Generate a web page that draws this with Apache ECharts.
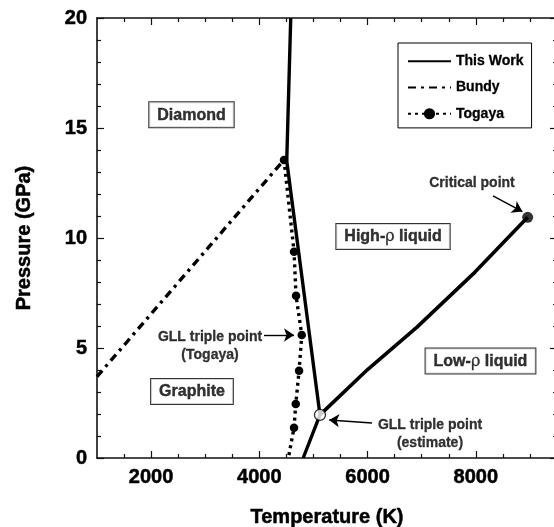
<!DOCTYPE html>
<html><head><meta charset="utf-8">
<script src="https://cdn.jsdelivr.net/npm/echarts@6/dist/echarts.min.js"></script>
<style>html,body{margin:0;padding:0;background:#fff}#c{width:554px;height:527px}</style>
</head><body><div id="c"></div>
<script>
// ---- data ----
const thisWorkMeltT = [4580, 4506, 5120, 4810];
const thisWorkMeltP = [20, 13.5, 1.96, 0];
const thisWorkLLT = [5120, 6000, 6913, 7985, 8958];
const thisWorkLLP = [1.96, 4.02, 5.95, 8.45, 10.94];
const bundyT = [1000, 4456];
const bundyP = [3.7, 13.55];
const togayaT = [4456, 4641, 4678, 4784, 4734, 4673, 4641];
const togayaP = [13.55, 9.38, 7.38, 5.59, 3.97, 2.45, 1.38];
const togayaEndT = [4536];
const togayaEndP = [0];
const criticalT = [8958];
const criticalP = [10.94];
const tripleT = [5120];
const tripleP = [1.96];
const xMajorTicks = [2000, 4000, 6000, 8000];
const xMinorTicks = [1500, 2500, 3000, 3500, 4500, 5000, 5500, 6500, 7000, 7500, 8500, 9000];
const yMajorTicks = [0, 5, 10, 15, 20];
const yMinorTicks = [1, 2, 3, 4, 6, 7, 8, 9, 11, 12, 13, 14, 16, 17, 18, 19];
const regionLabels = ['Diamond', 'Graphite', 'High-{r|ρ} liquid', 'Low-{r|ρ} liquid'];
const regionT = [2746, 2755, 6470, 8086];
const regionP = [15.6, 3.02, 10.07, 4.41];
const noteLabels = ['Critical point', 'GLL triple point\n(Togaya)', 'GLL triple point\n(estimate)'];
const noteT = [7929, 3088, 7153];
const noteP = [12.5, 5.09, 1.09];
const arrowFromT = [8317, 4086, 6081];
const arrowFromP = [11.91, 5.59, 1.59];
const arrowToT = [8860, 4640, 5290];
const arrowToP = [11.2, 5.59, 1.73];

// ---- chart ----
const FONT = 'Liberation Sans, Arial, Helvetica, sans-serif';
const INK = '#111';
const pairs = (a, b) => a.map((v, i) => [v, b[i]]);
const heavy = { textBorderColor: '#000', textBorderWidth: 0.5 };

function xAx(pos, ticks, len, main) {
  return {
    type: 'value', position: pos, min: 1000, max: 9500, interval: 500,
    axisLine: { show: main, onZero: false, lineStyle: { color: INK, width: 1.6 } },
    axisTick: { show: true, inside: true, length: len, customValues: ticks, lineStyle: { color: INK, width: 1.2 } },
    axisLabel: Object.assign({ show: main && pos === 'bottom', customValues: ticks, margin: 9,
      formatter: v => String(v),
      fontFamily: FONT, fontWeight: 'bold', fontSize: 20, color: '#000' }, heavy),
    splitLine: { show: false },
    name: (main && pos === 'bottom') ? 'Temperature (K)' : '',
    nameLocation: 'middle', nameGap: 49,
    nameTextStyle: Object.assign({ fontFamily: FONT, fontWeight: 'bold', fontSize: 20, color: '#000' }, heavy)
  };
}
function yAx(pos, ticks, len, main) {
  return {
    type: 'value', position: pos, min: 0, max: 20, interval: 1,
    axisLine: { show: main, onZero: false, lineStyle: { color: INK, width: 1.6 } },
    axisTick: { show: true, inside: true, length: len, customValues: ticks, lineStyle: { color: INK, width: 1.2 } },
    axisLabel: Object.assign({ show: main && pos === 'left', customValues: ticks, margin: 10,
      formatter: v => String(v),
      fontFamily: FONT, fontWeight: 'bold', fontSize: 20, color: '#000' }, heavy),
    splitLine: { show: false },
    name: (main && pos === 'left') ? 'Pressure (GPa)' : '',
    nameLocation: 'middle', nameGap: 63, nameRotate: 90,
    nameTextStyle: Object.assign({ fontFamily: FONT, fontWeight: 'bold', fontSize: 20, color: '#000' }, heavy)
  };
}

const togayaData = pairs(togayaT, togayaP).concat(
  pairs(togayaEndT, togayaEndP).map(v => ({ value: v, symbol: 'none' })));

const option = {
  animation: false,
  backgroundColor: '#fff',
  grid: { left: 97, right: -3, top: 18, bottom: 69, containLabel: false, outerBoundsMode: 'none' },
  xAxis: [
    xAx('bottom', xMajorTicks, 7, true),
    xAx('bottom', xMinorTicks, 4, false),
    xAx('top', xMajorTicks, 7, true),
    xAx('top', xMinorTicks, 4, false)
  ],
  yAxis: [
    yAx('left', yMajorTicks, 7, true),
    yAx('left', yMinorTicks, 4, false),
    yAx('right', yMajorTicks, 7, true),
    yAx('right', yMinorTicks, 4, false)
  ],
  legend: {
    data: [
      { name: 'This Work', itemStyle: { opacity: 0 } },
      { name: 'Bundy', itemStyle: { opacity: 0 } },
      { name: 'Togaya', itemStyle: { color: '#000', borderWidth: 0 } }
    ],
    orient: 'vertical', left: 398, top: 43,
    itemWidth: 43, itemHeight: 14, itemGap: 12,
    padding: [11, 8, 7, 9],
    backgroundColor: '#fff', borderColor: '#000', borderWidth: 1, borderRadius: 0,
    selectedMode: false,
    textStyle: { fontFamily: FONT, fontWeight: 'bold', fontSize: 14, color: '#000', textBorderColor: '#000', textBorderWidth: 0.3 }
  },
  series: [
    {
      name: 'This Work', type: 'line', data: pairs(thisWorkMeltT, thisWorkMeltP),
      symbol: 'none', itemStyle: { color: '#000' }, lineStyle: { color: '#000', width: 3.4 }, z: 3, silent: true
    },
    {
      name: 'This Work', type: 'line', data: pairs(thisWorkLLT, thisWorkLLP),
      symbol: 'none', itemStyle: { color: '#000' }, lineStyle: { color: '#000', width: 3.6 }, z: 3, silent: true
    },
    {
      name: 'Bundy', type: 'line', data: pairs(bundyT, bundyP),
      symbol: 'none', itemStyle: { color: '#000' }, lineStyle: { color: '#000', width: 3.4, type: [8, 5, 3, 5] }, z: 2, silent: true
    },
    {
      name: 'Togaya', type: 'line', data: togayaData,
      symbol: 'circle', symbolSize: 8.5, showSymbol: true,
      itemStyle: { color: '#000' },
      lineStyle: { color: '#000', width: 3.4, type: [3, 4] }, z: 2, silent: true
    },
    {
      name: 'critical', type: 'scatter', data: pairs(criticalT, criticalP),
      symbol: 'circle', symbolSize: 11, itemStyle: { color: '#000' }, z: 5, silent: true
    },
    {
      name: 'triple', type: 'scatter', data: pairs(tripleT, tripleP),
      symbol: 'circle', symbolSize: 11,
      itemStyle: { color: '#fff', borderColor: '#000', borderWidth: 1.3 }, z: 5, silent: true
    },
    {
      name: 'regions', type: 'scatter', symbolSize: 0, silent: true, z: 6,
      data: regionLabels.map((t, i) => ({ value: [regionT[i], regionP[i]], name: t })),
      label: {
        show: true, position: 'inside', formatter: p => p.name,
        fontFamily: FONT, fontWeight: 'bold', fontSize: 16, color: '#000',
        textBorderColor: '#000', textBorderWidth: 0.4,
        backgroundColor: '#fff', borderColor: '#000', borderWidth: 1, padding: [5, 8, 4, 8],
        rich: { r: { fontFamily: 'DejaVu Serif, serif', fontWeight: 'normal', fontSize: 16, color: '#000',
          textBorderColor: '#000', textBorderWidth: 0.3 } }
      }
    },
    {
      name: 'notes', type: 'scatter', symbolSize: 0, silent: true, z: 6,
      itemStyle: { color: '#000' },
      data: noteLabels.map((t, i) => ({ value: [noteT[i], noteP[i]], name: t })),
      label: {
        show: true, position: 'inside', formatter: p => p.name, align: 'center',
        fontFamily: FONT, fontWeight: 'bold', fontSize: 14, lineHeight: 18, color: '#000',
        textBorderColor: '#000', textBorderWidth: 0.3
      },
      markLine: {
        silent: true, animation: false,
        symbol: ['none', 'arrow'], symbolSize: 10,
        itemStyle: { color: '#000' },
        lineStyle: { color: '#000', width: 1.4, type: 'solid' },
        label: { show: false },
        emphasis: { disabled: true },
        data: arrowFromT.map((t, i) => [
          { coord: [t, arrowFromP[i]] },
          { coord: [arrowToT[i], arrowToP[i]] }
        ])
      }
    }
  ]
};

const chart = echarts.init(document.getElementById('c'), null, { renderer: 'canvas' });
chart.setOption(option);
</script>
</body></html>
